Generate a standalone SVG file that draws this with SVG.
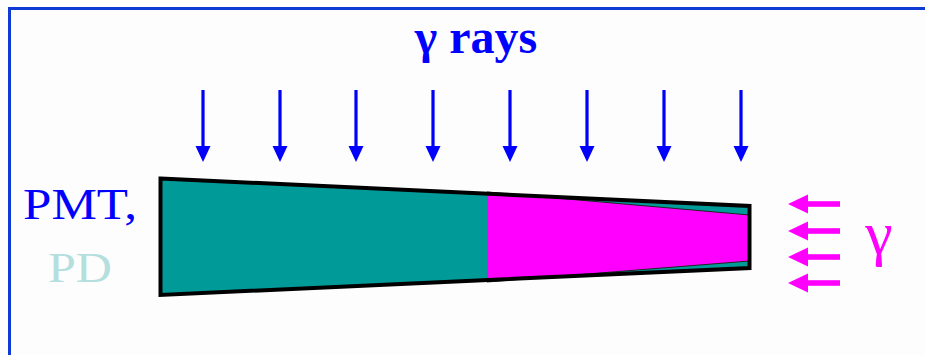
<svg xmlns="http://www.w3.org/2000/svg" width="925" height="355" viewBox="0 0 925 355">
  <defs>
    <style>
      .frame { fill: none; stroke: #0f3ad6; stroke-width: 3; }
      .blue-arrow { fill: #0000ff; }
      .mag-arrow { fill: #ff00ff; }
      .serif { font-family: "Liberation Serif", "Times New Roman", serif; }
    </style>
    <g id="downArrow">
      <rect x="-1.6" y="0" width="3.2" height="58" class="blue-arrow"/>
      <polygon points="-7.5,56 7.5,56 0,72" class="blue-arrow"/>
    </g>
    <g id="leftArrow">
      <rect x="16" y="-2.8" width="36" height="5.6" class="mag-arrow"/>
      <polygon points="0,0 20,-9.5 20,9.5" class="mag-arrow"/>
    </g>
  </defs>
  <rect width="925" height="355" fill="#fdfdfd"/>
  <g id="frame">
    <path class="frame" d="M9.5,355 V8.5 H925"/>
  </g>
  <g id="title">
    <text class="serif" x="476" y="53" font-size="48" font-weight="bold" fill="#0000ff" text-anchor="middle">γ rays</text>
  </g>
  <g id="pmt-label">
    <text class="serif" x="80" y="219" font-size="45" fill="#0000ff" text-anchor="middle" textLength="114" lengthAdjust="spacingAndGlyphs">PMT,</text>
    <text class="serif" x="80" y="282" font-size="42" fill="#b5dfdf" text-anchor="middle" textLength="64" lengthAdjust="spacingAndGlyphs">PD</text>
  </g>
  <g id="crystal">
    <polygon points="160.5,178.5 749.5,206 749.5,268 160.5,295" fill="#009a99"/>
    <polygon points="487,192 749.5,215 749.5,261 487,282" fill="#ff00ff"/>
    <polyline points="487,192 749.5,215" fill="none" stroke="#222" stroke-width="1"/>
    <polyline points="487,282 749.5,261" fill="none" stroke="#222" stroke-width="1"/>
    <polygon points="160.5,178.5 749.5,206 749.5,268 160.5,295" fill="none" stroke="#000" stroke-width="4" stroke-linejoin="miter"/>
  </g>
  <g id="gamma-label">
    <text class="serif" x="879" y="254" font-size="62" fill="#ff00ff" text-anchor="middle">γ</text>
  </g>
  <g id="connectors">
    <use href="#downArrow" x="203" y="90"/>
    <use href="#downArrow" x="280" y="90"/>
    <use href="#downArrow" x="356" y="90"/>
    <use href="#downArrow" x="433" y="90"/>
    <use href="#downArrow" x="510" y="90"/>
    <use href="#downArrow" x="587" y="90"/>
    <use href="#downArrow" x="664" y="90"/>
    <use href="#downArrow" x="741" y="90"/>
    <use href="#leftArrow" x="788" y="204"/>
    <use href="#leftArrow" x="788" y="231"/>
    <use href="#leftArrow" x="788" y="257"/>
    <use href="#leftArrow" x="788" y="283"/>
  </g>
</svg>
